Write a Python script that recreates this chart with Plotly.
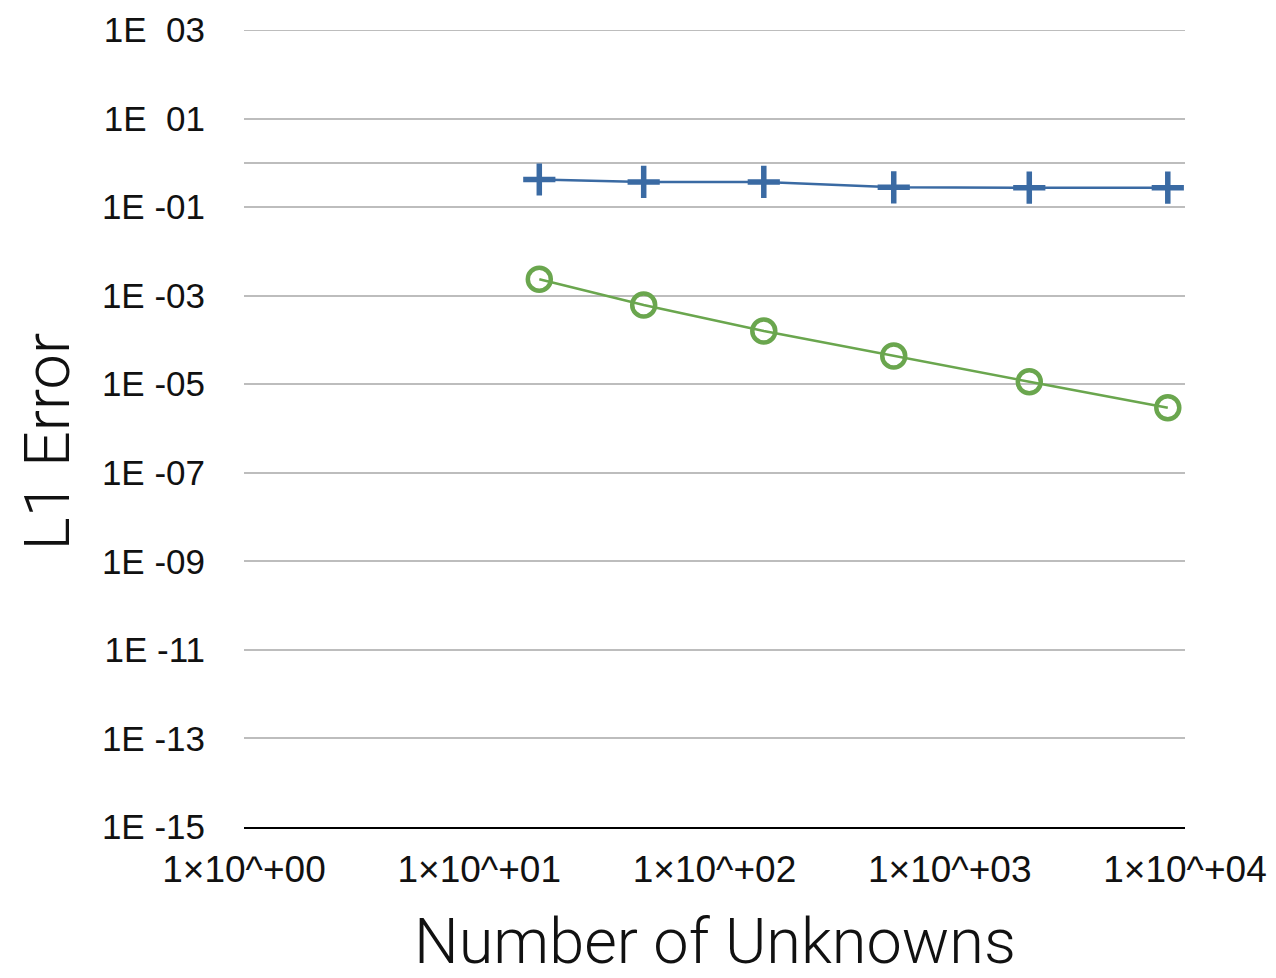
import plotly.graph_objects as go

# Mesh sizes (number of unknowns) and L1 errors for the two schemes
unknowns = [18, 50, 162, 578, 2178, 8450]
err_first = [0.42, 0.37, 0.37, 0.28, 0.275, 0.275]
err_second = [2.34e-3, 6.15e-4, 1.59e-4, 4.34e-5, 1.14e-5, 2.94e-6]

y_tick_exp = [3, 1, 0, -1, -3, -5, -7, -9, -11, -13, -15]
y_tick_text = ["1E\u00a0\u00a003", "1E\u00a0\u00a001", "", "1E -01", "1E -03", "1E -05", "1E -07",
               "1E -09", "1E -11", "1E -13", "1E -15"]
x_tick_vals = [1, 10, 100, 1000, 10000]
x_tick_text = ["1×10^+00", "1×10^+01", "1×10^+02", "1×10^+03", "1×10^+04"]

BLUE = "#3a6aa3"
GREEN = "#6aa64e"
GRID = "#bdbdbd"
Y_TICK_FONT = dict(family="Liberation Sans, Arial, sans-serif", size=35, color="#111111")
X_TICK_FONT = dict(family="Liberation Sans, Arial, sans-serif", size=37, color="#111111")
TITLE_FONT = dict(family="Roboto, Liberation Sans, sans-serif", size=63, color="#111111", weight=300)

fig = go.Figure()
fig.add_trace(go.Scatter(
    x=unknowns, y=err_first, mode="lines+markers",
    line=dict(color=BLUE, width=2.5),
    marker=dict(symbol="cross-thin", size=23, line=dict(color=BLUE, width=5.5)),
    showlegend=False,
))
fig.add_trace(go.Scatter(
    x=unknowns, y=err_second, mode="lines+markers",
    line=dict(color=GREEN, width=2.5),
    marker=dict(symbol="circle-open", size=23, line=dict(color=GREEN, width=4.5)),
    showlegend=False,
))

fig.update_xaxes(
    type="log", range=[0, 4], automargin=False,
    tickvals=x_tick_vals, ticktext=x_tick_text, tickfont=X_TICK_FONT,
    showgrid=False, zeroline=False,
    showline=True, linecolor="#000000", linewidth=2,
    ticks="outside", ticklen=9, tickcolor="rgba(0,0,0,0)",
)
fig.update_yaxes(
    type="log", range=[-15, 3], automargin=False,
    tickvals=[10 ** e for e in y_tick_exp], ticktext=y_tick_text, tickfont=Y_TICK_FONT,
    showgrid=True, gridcolor=GRID, gridwidth=2, zeroline=False,
    showline=False,
    ticks="outside", ticklen=31, tickcolor="rgba(0,0,0,0)",
)

# top gridline at 1E+03 sits on the plot edge
fig.add_shape(type="line", xref="paper", yref="y", x0=0, x1=1,
              y0=1000, y1=1000, line=dict(color=GRID, width=2), layer="below")

fig.add_annotation(text="Number of Unknowns", xref="paper", yref="paper",
                   x=0.5, y=-0.144, xanchor="center", yanchor="middle",
                   showarrow=False, font=TITLE_FONT)
fig.add_annotation(text="L1 Error", xref="paper", yref="paper",
                   x=-0.209, y=0.484, xanchor="center", yanchor="middle",
                   textangle=-90, showarrow=False, font=TITLE_FONT)

fig.update_layout(
    width=1276, height=978,
    margin=dict(l=244, r=91, t=30, b=151),
    paper_bgcolor="white", plot_bgcolor="white",
)

fig.write_html("out.html")
